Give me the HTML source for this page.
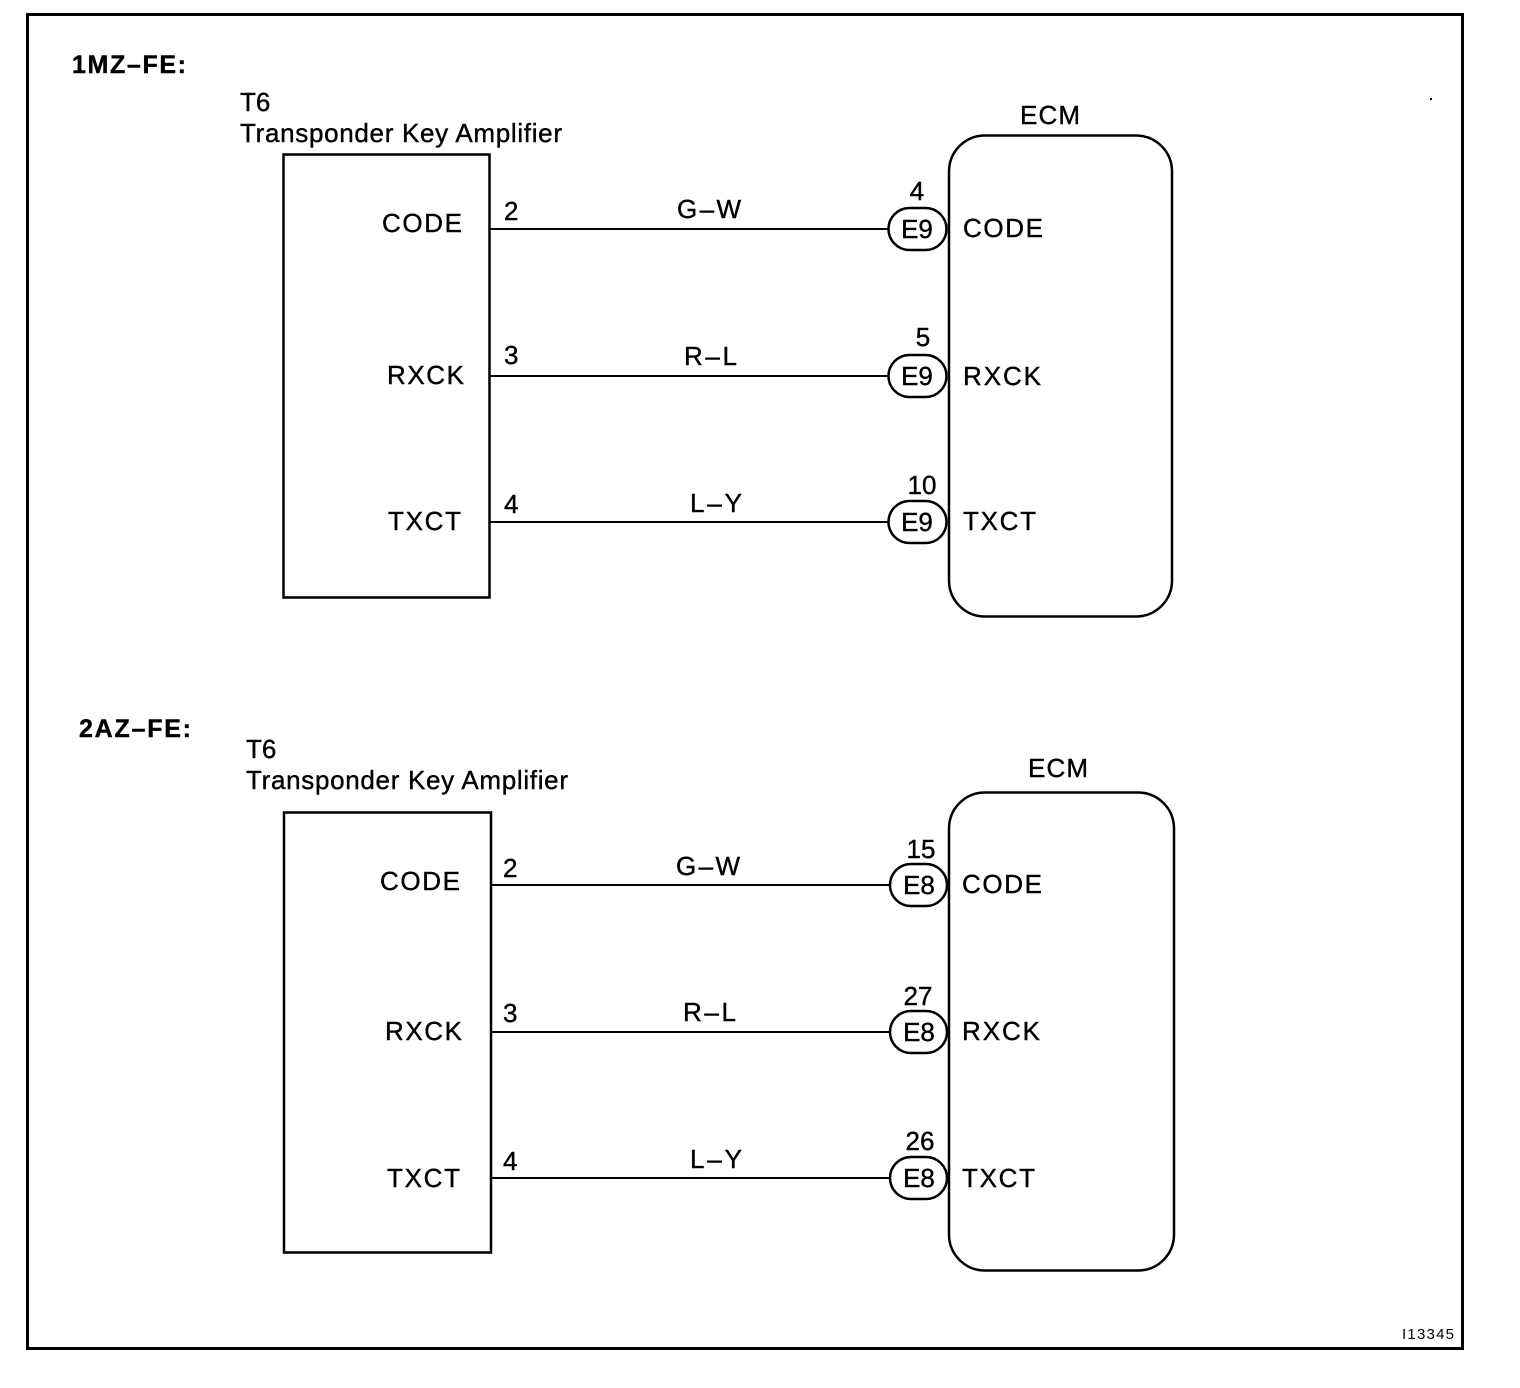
<!DOCTYPE html>
<html><head><style>body{margin:0;background:#fff}svg{display:block}</style></head><body>
<svg width="1520" height="1388" viewBox="0 0 1520 1388" xmlns="http://www.w3.org/2000/svg" font-family="Liberation Sans, sans-serif" fill="#000">
<rect x="27.5" y="14.5" width="1435" height="1334" fill="none" stroke="#000" stroke-width="3"/>
<g font-size="26" stroke="#000" stroke-width="0.4">
<text x="72" y="73" font-weight="bold" font-size="25" textLength="114">1MZ–FE:</text>
<text x="240" y="111">T6</text>
<text x="240" y="142" textLength="322">Transponder Key Amplifier</text>
<text x="1020" y="124" textLength="60">ECM</text>
<text x="382" y="232" textLength="80">CODE</text><text x="504" y="220">2</text><text x="677" y="218" textLength="64">G–W</text>
<text x="917" y="200" text-anchor="middle">4</text>
<text x="963" y="237" textLength="80">CODE</text>
<text x="387" y="384" textLength="77">RXCK</text><text x="504" y="364">3</text><text x="684" y="365" textLength="53">R–L</text>
<text x="923" y="346" text-anchor="middle">5</text>
<text x="963" y="385" textLength="78">RXCK</text>
<text x="388" y="530" textLength="73">TXCT</text><text x="504" y="513">4</text><text x="690" y="512" textLength="52">L–Y</text>
<text x="922" y="494" text-anchor="middle">10</text>
<text x="963" y="530" textLength="73">TXCT</text>
<text x="917" y="238" text-anchor="middle">E9</text>
<text x="917" y="385" text-anchor="middle">E9</text>
<text x="917" y="531" text-anchor="middle">E9</text>

<text x="79" y="737" font-weight="bold" font-size="25" textLength="112">2AZ–FE:</text>
<text x="246" y="758">T6</text>
<text x="246" y="789" textLength="322">Transponder Key Amplifier</text>
<text x="1028" y="777" textLength="60">ECM</text>
<text x="380" y="890" textLength="80">CODE</text><text x="503" y="877">2</text><text x="676" y="875" textLength="64">G–W</text>
<text x="921" y="858" text-anchor="middle">15</text>
<text x="962" y="893" textLength="80">CODE</text>
<text x="385" y="1040" textLength="77">RXCK</text><text x="503" y="1022">3</text><text x="683" y="1021" textLength="53">R–L</text>
<text x="918" y="1005" text-anchor="middle">27</text>
<text x="962" y="1040" textLength="78">RXCK</text>
<text x="387" y="1187" textLength="73">TXCT</text><text x="503" y="1170">4</text><text x="690" y="1168" textLength="52">L–Y</text>
<text x="920" y="1150" text-anchor="middle">26</text>
<text x="962" y="1187" textLength="73">TXCT</text>
<text x="919" y="894" text-anchor="middle">E8</text>
<text x="919" y="1041" text-anchor="middle">E8</text>
<text x="919" y="1187" text-anchor="middle">E8</text>
</g>
<g stroke="#000" stroke-width="2" fill="none">
<rect x="283.5" y="154.5" width="206" height="443" stroke-width="2.5"/>
<rect x="949" y="135.5" width="223" height="481" rx="36" stroke-width="2.5"/>
<line x1="489" y1="229" x2="888" y2="229"/><line x1="489" y1="376" x2="888" y2="376"/><line x1="489" y1="522" x2="888" y2="522"/>
<rect x="888.5" y="208" width="58" height="42" rx="21" stroke-width="2.5"/>
<rect x="888.5" y="355" width="58" height="42" rx="21" stroke-width="2.5"/>
<rect x="888.5" y="501" width="58" height="42" rx="21" stroke-width="2.5"/>
<rect x="284" y="812.5" width="207" height="440" stroke-width="2.5"/>
<rect x="949" y="792.5" width="225" height="478" rx="36" stroke-width="2.5"/>
<line x1="491" y1="885" x2="890" y2="885"/><line x1="491" y1="1032" x2="890" y2="1032"/><line x1="491" y1="1178" x2="890" y2="1178"/>
<rect x="890" y="864" width="57" height="42" rx="21" stroke-width="2.5"/>
<rect x="890" y="1011" width="57" height="42" rx="21" stroke-width="2.5"/>
<rect x="890" y="1157" width="57" height="42" rx="21" stroke-width="2.5"/>
</g>
<text x="1454" y="1339" font-size="15" text-anchor="end" textLength="52">I13345</text>
<rect x="1430" y="98" width="2" height="2"/>
</svg>
</body></html>
